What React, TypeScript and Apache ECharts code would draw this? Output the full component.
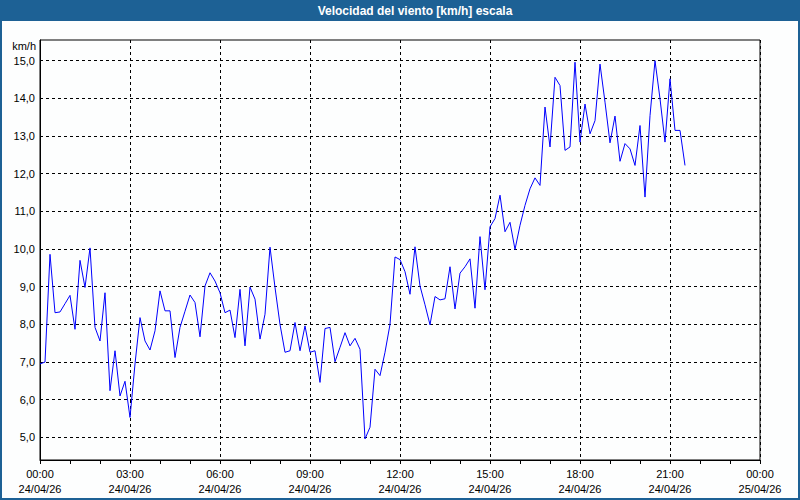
import React, { useEffect, useRef } from "react";
import * as echarts from "echarts";

// Wind speed samples every 10 minutes from 00:00 on 24/04/26 (km/h)
const speeds: number[] = [
  6.95, 7.0, 9.86, 8.31, 8.33, 8.55, 8.77, 7.87, 9.7, 8.98,
  10.03, 7.92, 7.56, 8.84, 6.24, 7.3, 6.1, 6.49, 5.53, 6.95,
  8.18, 7.56, 7.32, 7.83, 8.89, 8.36, 8.36, 7.12, 7.92, 8.35,
  8.78, 8.58, 7.67, 9.02, 9.37, 9.15, 8.84, 8.31, 8.38, 7.65,
  8.93, 7.43, 8.99, 8.67, 7.61, 8.27, 10.05, 8.98, 8.0, 7.26,
  7.3, 8.05, 7.3, 7.96, 7.26, 7.3, 6.46, 7.89, 7.92, 7.01,
  7.39, 7.78, 7.43, 7.63, 7.34, 4.96, 5.27, 6.81, 6.64, 7.26,
  8.0, 9.79, 9.72, 9.4, 8.8, 10.06, 9.02, 8.52, 7.99, 8.74,
  8.65, 8.68, 9.53, 8.41, 9.36, 9.53, 9.74, 8.43, 10.33, 8.92,
  10.59, 10.81, 11.43, 10.46, 10.71, 9.99, 10.63, 11.16, 11.6, 11.89,
  11.69, 13.77, 12.71, 14.56, 14.34, 12.62, 12.71, 14.96, 12.84, 13.85,
  13.06, 13.41, 14.91, 13.9, 12.82, 13.53, 12.33, 12.8, 12.66, 12.22,
  13.28, 11.38, 13.54, 15.0, 13.99, 12.84, 14.52, 13.15, 13.15, 12.22,
];
const sampleStepHours = 10 / 60;

const yTickValues: number[] = [5, 6, 7, 8, 9, 10, 11, 12, 13, 14, 15];
const xTickHours: number[] = [0, 3, 6, 9, 12, 15, 18, 21, 24];
const xTimeLabels: string[] = ["00:00", "03:00", "06:00", "09:00", "12:00", "15:00", "18:00", "21:00", "00:00"];
const xDateLabels: string[] = ["24/04/26", "24/04/26", "24/04/26", "24/04/26", "24/04/26", "24/04/26", "24/04/26", "24/04/26", "25/04/26"];

const TITLE = "Velocidad del viento [km/h] escala";
const UNIT = "km/h";
const FONT = "'Liberation Sans', Arial, sans-serif";
const BLUE = "#1d6195";

export default function App() {
  const ref = useRef<HTMLDivElement>(null);
  useEffect(() => {
    if (!ref.current) return;
    const chart = echarts.init(ref.current, null, { renderer: "svg" });
    const data = speeds.map((v, i) => [i * sampleStepHours, v]);
    chart.setOption({
      animation: false,
      backgroundColor: "#fdfefe",
      textStyle: { fontFamily: FONT },
      grid: {
        left: 40,
        right: 40,
        top: 40,
        bottom: 40,
        show: true,
        borderColor: "#000",
        borderWidth: 1,
        containLabel: false,
      },
      xAxis: {
        type: "value",
        min: 0,
        max: 24,
        interval: 3,
        axisLine: { show: true, onZero: false, lineStyle: { color: "#000", width: 1 } },
        axisTick: { show: true, length: 4, lineStyle: { color: "#000" } },
        minorTick: { show: true, splitNumber: 3, length: 4, lineStyle: { color: "#000" } },
        splitLine: { show: true, lineStyle: { color: "#000", type: [3, 3], width: 1 } },
        axisLabel: {
          margin: 6,
          color: "#000",
          fontSize: 11,
          lineHeight: 15,
          fontFamily: FONT,
          formatter: (v: number) => {
            const idx = xTickHours.indexOf(Math.round(v));
            return idx >= 0 ? xTimeLabels[idx] + "\n" + xDateLabels[idx] : "";
          },
        },
      },
      yAxis: {
        type: "value",
        min: 4.4,
        max: 15.55,
        axisLine: { show: true, lineStyle: { color: "#000", width: 1 } },
        axisTick: { show: false, customValues: yTickValues },
        splitLine: { show: true, lineStyle: { color: "#000", type: [3, 3], width: 1 } },
        axisLabel: {
          customValues: yTickValues,
          margin: 5,
          color: "#000",
          fontSize: 11,
          fontFamily: FONT,
          formatter: (v: number) => v.toFixed(1).replace(".", ","),
        },
      },
      series: [
        {
          type: "line",
          data,
          showSymbol: false,
          symbol: "none",
          lineStyle: { color: "#0000ff", width: 1 },
          itemStyle: { color: "#0000ff" },
          clip: false,
        },
      ],
      graphic: [
        { type: "rect", shape: { x: 0, y: 0, width: 800, height: 21 }, style: { fill: BLUE }, z: 10 },
        {
          type: "text",
          x: 415,
          y: 11,
          style: {
            text: TITLE,
            fill: "#ffffff",
            font: "bold 12px " + FONT,
            textAlign: "center",
            textVerticalAlign: "middle",
          },
          z: 11,
        },
        {
          type: "rect",
          shape: { x: 1, y: 1, width: 798, height: 498 },
          style: { fill: "none", stroke: BLUE, lineWidth: 2 },
          z: 10,
        },
        {
          type: "text",
          x: 36,
          y: 46,
          style: {
            text: UNIT,
            fill: "#000",
            font: "11px " + FONT,
            textAlign: "right",
            textVerticalAlign: "middle",
          },
          z: 11,
        },
      ],
    });
    return () => chart.dispose();
  }, []);
  return (
    <div
      ref={ref}
      style={{ position: "fixed", left: 0, top: 0, width: 800, height: 500 }}
    />
  );
}
